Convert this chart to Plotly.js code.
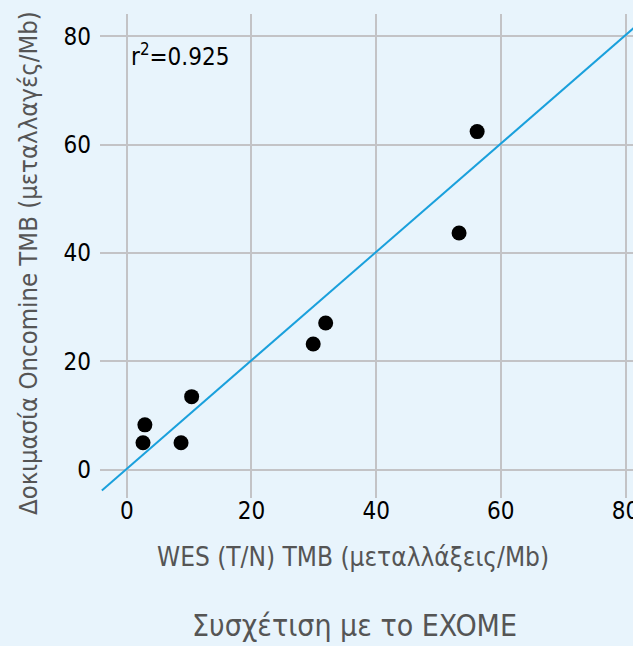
<!DOCTYPE html>
<html><head><meta charset="utf-8">
<script src="https://cdn.plot.ly/plotly-3.0.1.min.js"></script>
<style>html,body{margin:0;padding:0;background:#e8f4fc;}</style>
</head><body>
<div id="chart" style="width:633px;height:646px;"></div>
<script>
const wesTMB = [2.9, 2.6, 8.7, 10.4, 29.9, 31.9, 53.3, 56.2];
const oncomineTMB = [8.3, 5.0, 5.0, 13.5, 23.2, 27.1, 43.7, 62.4];
const fitX = [-4, 82];
const fitY = [-3.8, 82.2];
const tickVals = [0, 20, 40, 60, 80];
const r2Label = 'r<sup>2</sup>=0.925';
const xTitle = 'WES (T/N) TMB (μεταλλάξεις/Mb)';
const yTitle = 'Δοκιμασία Oncomine TMB (μεταλλαγές/Mb)';
const chartTitle = 'Συσχέτιση με το EXOME';
const FONT = '"DejaVu Sans Condensed", "DejaVu Sans", sans-serif';

const traces = [
  {x: fitX, y: fitY, mode: 'lines', line: {color: '#1aa0dc', width: 2}, hoverinfo: 'skip', showlegend: false},
  {x: wesTMB, y: oncomineTMB, mode: 'markers', marker: {color: '#000', size: 15}, showlegend: false}
];
const W = 633, H = 646, L = 100, R = 0, T = 14, B = 148;
const px = v => (v - L) / (W - L - R);
const py = v => (H - B - v) / (H - T - B);
const layout = {
  width: W, height: H,
  paper_bgcolor: '#e8f4fc', plot_bgcolor: '#e8f4fc',
  margin: {l: L, r: R, t: T, b: B},
  font: {family: FONT, color: '#000', size: 24},
  xaxis: {range: [-4.3, 81.2], tickvals: tickVals, showgrid: true, gridcolor: '#c3c3c6', gridwidth: 2,
    zeroline: false, showline: false, ticks: '', ticklabelstandoff: -4, ticklabeloverflow: 'allow'},
  yaxis: {range: [-5.2, 84.1], tickvals: tickVals, showgrid: true, gridcolor: '#c3c3c6', gridwidth: 2,
    zeroline: false, showline: false, ticks: '', ticklabelstandoff: 8, ticklabeloverflow: 'allow'},
  annotations: [
    {text: r2Label, xref: 'x', yref: 'y', x: 0.3, y: 76.5, xanchor: 'left', yanchor: 'middle', showarrow: false,
     font: {size: 24, color: '#000'}},
    {text: xTitle, xref: 'paper', yref: 'paper', x: px(353), y: py(557), xanchor: 'center', yanchor: 'middle',
     showarrow: false, font: {size: 26, color: '#555'}},
    {text: yTitle, xref: 'paper', yref: 'paper', x: px(28), y: py(263), xanchor: 'center', yanchor: 'middle',
     textangle: -90, showarrow: false, font: {size: 25.5, color: '#555'}},
    {text: chartTitle, xref: 'paper', yref: 'paper', x: px(354), y: py(625), xanchor: 'center', yanchor: 'middle',
     showarrow: false, font: {size: 30, color: '#555'}}
  ]
};
Plotly.newPlot('chart', traces, layout, {displayModeBar: false});
</script>
</body></html>
